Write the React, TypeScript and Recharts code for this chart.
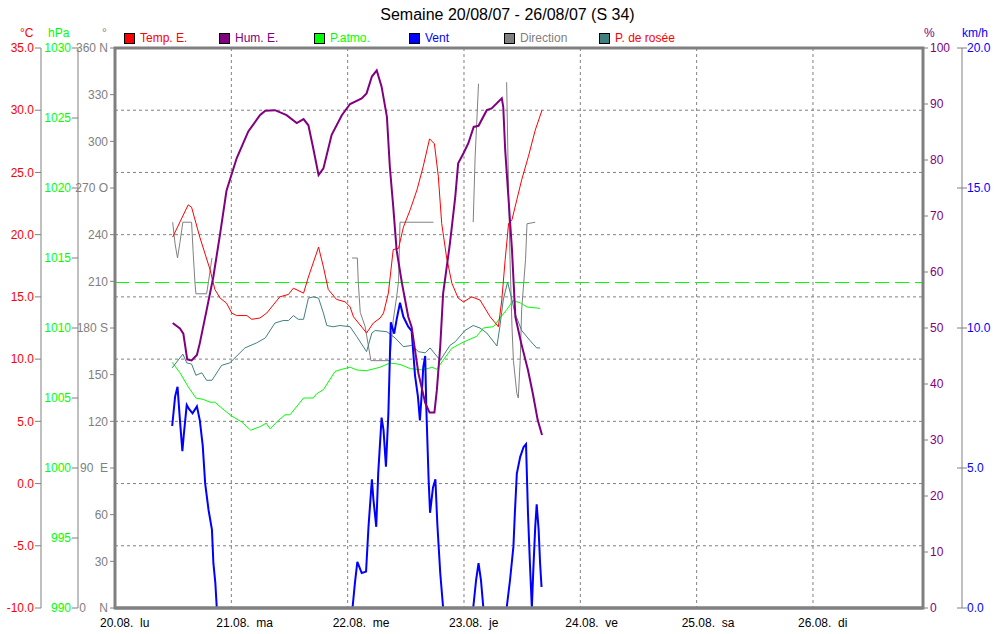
import React from 'react'
import { ComposedChart, Line, XAxis, YAxis, CartesianGrid, ReferenceLine, ReferenceArea } from 'recharts'

const FONT = '"Liberation Sans", Arial, sans-serif'
const T_END = 166.7 // hours shown (20.08 00:00 .. right frame)

const dayTicks = [0, 24, 48, 72, 96, 120, 144]
const dayLabels = ['20.08.  lu', '21.08.  ma', '22.08.  me', '23.08.  je', '24.08.  ve', '25.08.  sa', '26.08.  di']
const tempTicks = [-10, -5, 0, 5, 10, 15, 20, 25, 30, 35]
const pressTicks = [990, 995, 1000, 1005, 1010, 1015, 1020, 1025, 1030]
const dirTicks = [0, 30, 60, 90, 120, 150, 180, 210, 240, 270, 300, 330, 360]
const dirLabels: Record<number, string> = { 0: '0    N', 90: '90  E', 180: '180 S', 270: '270 O', 360: '360 N' }
const humTicks = [0, 10, 20, 30, 40, 50, 60, 70, 80, 90, 100]
const windTicks = [0, 5, 10, 15, 20]

// [hour since 20.08 00:00, value]
const tempPts: [number, number][] = [
  [11.9, 19.8], [15.1, 22.4], [15.8, 22.2], [17.5, 19.8], [19.6, 17.2], [20.6, 15.6], [21.7, 14.9], [23.0, 14.5],
  [24.1, 13.7], [25.1, 13.5], [27.2, 13.5], [28.2, 13.2], [29.9, 13.3], [31.3, 13.7], [34.0, 15.0], [35.8, 15.2],
  [36.8, 15.7], [38.9, 15.3], [39.9, 16.6], [42.0, 19.0], [43.0, 17.4], [44.0, 15.6], [45.7, 14.8], [47.5, 14.6],
  [48.5, 14.2], [49.2, 13.4], [51.9, 12.1], [53.3, 12.9], [54.7, 13.3], [55.4, 13.7], [56.4, 15.3], [57.4, 18.8],
  [58.5, 18.9], [59.5, 20.6], [60.9, 22.0], [62.3, 23.6], [63.6, 25.5], [64.9, 27.7], [65.9, 27.3], [66.7, 24.7],
  [67.4, 20.9], [68.4, 18.2], [69.5, 16.1], [70.8, 14.9], [71.9, 14.6], [73.6, 15.0], [75.3, 14.75], [77.4, 13.4],
  [79.1, 12.6], [79.8, 14.75], [80.5, 18.0], [81.2, 20.9], [81.9, 21.2], [82.9, 22.8], [83.9, 24.4], [85.3, 26.3],
  [86.7, 28.4], [88.1, 30.0],
]

const humPts: [number, number][] = [
  [11.9, 50.9], [13.4, 49.9], [14.1, 49.0], [14.9, 44.4], [15.8, 44.2], [16.9, 45.2], [17.5, 47.3], [18.9, 53.2],
  [20.3, 59.2], [21.7, 66.9], [23.0, 74.5], [25.1, 80.3], [27.5, 85.1], [29.9, 88.0], [31.0, 88.8], [33.0, 88.9],
  [35.4, 88.0], [37.5, 86.6], [38.9, 87.3], [39.9, 86.2], [40.9, 82.1], [42.0, 77.3], [43.0, 78.5], [44.7, 84.5],
  [46.8, 88.0], [48.5, 90.0], [50.9, 91.0], [51.9, 91.9], [53.0, 94.9], [54.0, 96.0], [55.0, 93.1], [56.1, 87.7],
  [56.7, 78.8], [57.4, 71.7], [58.1, 63.9], [59.2, 58.0], [60.5, 52.0], [61.2, 50.2], [62.6, 41.9], [64.0, 36.6],
  [64.9, 34.9], [65.9, 34.9], [66.4, 38.9], [67.1, 46.7], [67.7, 56.2], [69.1, 65.1], [70.2, 73.4], [70.8, 79.4],
  [71.9, 81.2], [72.9, 83.0], [74.0, 85.9], [75.0, 86.1], [76.7, 88.9], [77.7, 89.2], [79.8, 91.0], [80.1, 89.5],
  [80.5, 81.8], [81.2, 72.9], [81.9, 64.0], [82.6, 52.0], [83.8, 47.3], [85.2, 42.5], [86.2, 38.3], [87.2, 33.6],
  [88.1, 30.9],
]

const pressPts: [number, number][] = [
  [11.8, 1007.55], [13.4, 1006.8], [15.1, 1005.8], [16.7, 1005.0], [18.2, 1004.9], [19.6, 1004.7], [20.6, 1004.7],
  [22.3, 1004.2], [24.1, 1003.7], [26.1, 1003.3], [28.0, 1002.7], [29.9, 1002.95], [31.2, 1003.2], [32.0, 1002.8],
  [33.7, 1003.4], [35.1, 1003.8], [36.1, 1003.8], [38.9, 1005.0], [40.9, 1005.0], [41.6, 1005.3], [43.0, 1005.6],
  [45.4, 1006.9], [46.8, 1007.05], [48.5, 1007.2], [49.9, 1007.0], [51.9, 1006.95], [54.7, 1007.2], [56.7, 1007.5],
  [58.8, 1007.4], [60.9, 1007.1], [63.6, 1007.0], [65.4, 1007.2], [66.4, 1007.05], [67.7, 1007.7], [69.5, 1008.55],
  [71.9, 1009.0], [74.6, 1009.4], [76.0, 1010.0], [78.1, 1010.1], [79.4, 1010.7], [80.8, 1011.3], [82.1, 1011.95],
  [83.6, 1011.8], [85.0, 1011.5], [87.7, 1011.4],
]

const dewPts: [number, number][] = [
  [11.8, 9.3], [14.0, 10.4], [14.8, 9.7], [15.8, 9.6], [16.7, 8.7], [17.9, 8.9], [18.9, 8.3], [20.0, 8.3],
  [22.0, 9.5], [23.7, 9.7], [26.8, 10.9], [29.2, 11.3], [31.0, 11.7], [33.0, 12.9], [34.7, 13.1], [35.8, 13.1],
  [36.8, 13.5], [37.8, 13.2], [38.9, 13.2], [39.9, 14.9], [40.9, 15.0], [42.0, 14.9], [43.0, 13.7], [43.7, 12.7],
  [45.0, 12.6], [46.4, 12.7], [48.5, 12.6], [49.9, 11.8], [51.9, 10.6], [53.0, 12.1], [53.7, 12.3], [56.1, 12.2],
  [57.8, 11.7], [59.5, 11.0], [61.2, 11.1], [62.6, 10.6], [64.0, 10.5], [65.0, 10.9], [67.1, 9.9], [69.1, 11.1],
  [70.2, 11.4], [72.2, 12.3], [73.9, 12.7], [75.3, 12.5], [76.7, 12.1], [78.8, 11.05], [79.4, 12.6], [80.1, 14.75],
  [81.0, 16.2], [81.9, 14.75], [82.5, 13.7], [83.9, 12.3], [85.6, 11.5], [87.0, 10.9], [87.7, 10.9],
]

const windPts: [number, number][] = [
  [11.8, 6.5], [12.4, 7.55], [12.9, 7.9], [13.4, 6.7], [13.9, 5.6], [14.2, 6.2], [14.8, 7.25], [15.3, 7.1],
  [16.0, 6.95], [16.9, 7.2], [17.5, 6.7], [18.1, 5.8], [18.6, 4.45], [19.3, 3.5], [20.0, 2.8], [20.3, 1.6],
  [20.7, 0.9], [21.0, 0], [49.0, 0], [49.5, 0.9], [50.0, 1.65], [50.9, 1.25], [51.8, 1.3], [52.3, 2.9],
  [53.0, 4.6], [53.3, 3.9], [53.9, 2.9], [54.3, 4.8], [55.0, 6.8], [55.4, 6.35], [55.9, 5.05], [56.4, 6.95],
  [56.9, 10.2], [57.6, 9.8], [58.1, 10.3], [58.8, 10.9], [59.5, 10.4], [60.5, 10.05], [61.2, 9.9], [61.9, 8.3],
  [62.5, 7.55], [62.9, 6.7], [63.3, 7.7], [63.6, 8.6], [64.0, 9.0], [64.2, 7.3], [64.7, 4.6], [65.0, 3.4],
  [65.6, 4.3], [66.1, 4.6], [66.5, 3.0], [67.1, 1.25], [67.7, 0], [73.9, 0], [74.5, 1.0], [75.0, 1.6],
  [75.5, 1.0], [76.0, 0], [80.8, 0], [81.5, 1.0], [82.2, 2.2], [82.5, 3.4], [82.9, 4.8], [83.6, 5.4],
  [84.3, 5.75], [84.8, 5.85], [85.2, 3.4], [85.6, 1.6], [86.0, 0], [86.3, 1.35], [86.7, 2.9], [87.0, 3.7],
  [87.4, 2.8], [87.7, 1.6], [88.0, 0.75],
]

const dirPts: [number, number | null][] = [
  [11.9, 248], [12.4, 234], [12.9, 225], [13.4, 235], [14.0, 248], [15.8, 248], [16.1, 230], [16.5, 209],
  [16.7, 202], [18.9, 202], [19.3, 210], [20.0, 225], [30.0, null],
  [48.9, 225], [50.0, 225], [50.2, 209], [50.6, 190], [51.6, 181], [52.8, 159], [56.7, 159], [57.4, 185],
  [58.1, 200], [58.5, 210], [58.8, 248], [65.7, 248], [70.0, null],
  [73.9, 248], [74.3, 290], [74.6, 310], [75.0, 337], [78.0, null],
  [80.8, 338], [81.2, 267], [81.5, 224], [81.9, 181], [82.2, 159], [82.9, 138], [83.2, 135], [83.6, 159],
  [83.9, 192], [84.7, 224], [85.0, 247], [86.7, 248],
]

const legendItems = [
  { name: 'Temp. E.', box: '#ff0000', text: '#ff0000' },
  { name: 'Hum. E.', box: '#800080', text: '#800080' },
  { name: 'P.atmo.', box: '#00ff00', text: '#00ff00' },
  { name: 'Vent', box: '#0000ff', text: '#0000ff' },
  { name: 'Direction', box: '#808080', text: '#808080' },
  { name: 'P. de rosée', box: '#408080', text: '#ff0000' },
]

const units = [
  { text: '°C', left: 20, color: '#ff0000' },
  { text: 'hPa', left: 48, color: '#00ff00' },
  { text: '°', left: 102, color: '#808080' },
  { text: '%', left: 924, color: '#800080' },
  { text: 'km/h', left: 962, color: '#0000ff' },
]

const toData = (pts: [number, number | null][]) => pts.map(([t, v]) => ({ t, v }))

const DayTick = ({ x, payload }: any) => (
  <text x={x - 15} y={627} fontSize={12} fontFamily={FONT} fill="#000" xmlSpace="preserve" style={{ whiteSpace: 'pre' }}>
    {dayLabels[Math.round(payload.value / 24)]}
  </text>
)

const DirTick = ({ x, y, payload }: any) => (
  <text x={x} y={y} dy="0.355em" textAnchor="end" fontSize={12} fontFamily={FONT} fill="#808080" xmlSpace="preserve" style={{ whiteSpace: 'pre' }}>
    {dirLabels[payload.value] ?? String(payload.value)}
  </text>
)

const WindTick = ({ x, y, payload }: any) => (
  <g>
    <line x1={x - 10} x2={x - 5} y1={y} y2={y} stroke="#808080" />
    <text x={x} y={y} dy="0.355em" fontSize={12} fontFamily={FONT} fill="#0000ff">
      {payload.value.toFixed(1)}
    </text>
  </g>
)

const tickFont = { fontSize: 12, fontFamily: FONT }

export default function App() {
  return (
    <div style={{ position: 'absolute', left: 0, top: 0, width: 1007, height: 634, background: '#fff', fontFamily: FONT }}>
      <div style={{ position: 'absolute', left: 0, width: 1007, top: 6, textAlign: 'center', fontSize: 16, paddingLeft: 4 }}>
        Semaine 20/08/07 - 26/08/07 (S 34)
      </div>
      {legendItems.map((it, i) => (
        <div key={it.name} style={{ position: 'absolute', left: 124 + i * 95, top: 31, display: 'flex', alignItems: 'center', fontSize: 12, color: it.text }}>
          <span style={{ width: 9, height: 9, border: '1px solid #000', background: it.box, marginRight: 5 }} />
          {it.name}
        </div>
      ))}
      {units.map(u => (
        <div key={u.text} style={{ position: 'absolute', left: u.left, top: 26, fontSize: 12, color: u.color }}>
          {u.text}
        </div>
      ))}
      <ComposedChart width={1007} height={634} margin={{ top: 48, right: 0, bottom: 0, left: 0 }}>
        <CartesianGrid yAxisId="temp" stroke="#808080" strokeDasharray="3 3" />
        <ReferenceLine yAxisId="press" y={1013.25} stroke="#00ff00" strokeDasharray="14 6" />
        <Line yAxisId="dir" data={toData(dirPts)} dataKey="v" stroke="#808080" strokeWidth={1} dot={false} isAnimationActive={false} connectNulls={false} />
        <Line yAxisId="press" data={toData(pressPts)} dataKey="v" stroke="#00ff00" strokeWidth={1} dot={false} isAnimationActive={false} />
        <Line yAxisId="temp" data={toData(dewPts)} dataKey="v" stroke="#408080" strokeWidth={1} dot={false} isAnimationActive={false} />
        <Line yAxisId="temp" data={toData(tempPts)} dataKey="v" stroke="#ff0000" strokeWidth={1} dot={false} isAnimationActive={false} />
        <Line yAxisId="wind" data={toData(windPts)} dataKey="v" stroke="#0000ff" strokeWidth={2} dot={false} isAnimationActive={false} />
        <Line yAxisId="hum" data={toData(humPts)} dataKey="v" stroke="#800080" strokeWidth={2} dot={false} isAnimationActive={false} />
        <ReferenceArea yAxisId="temp" x1={0} x2={T_END} y1={-10} y2={35} fill="none" stroke="#808080" strokeWidth={3}
          ifOverflow="visible" {...({ zIndex: 1000 } as any)} />
        <XAxis dataKey="t" type="number" domain={[0, T_END]} ticks={dayTicks} height={26}
          axisLine={{ stroke: '#808080', strokeWidth: 3 }} tickLine={false} tick={<DayTick />} allowDataOverflow />
        <YAxis yAxisId="dir" orientation="left" width={37} domain={[0, 360]} ticks={dirTicks}
          axisLine={false} tickSize={5} tickLine={{ stroke: '#808080' }} tickMargin={2} tick={<DirTick />} />
        <YAxis yAxisId="press" orientation="left" width={37} domain={[990, 1030]} ticks={pressTicks}
          axisLine={{ stroke: '#808080' }} tickLine={{ stroke: '#808080' }} tickSize={6} tickMargin={1}
          tick={{ ...tickFont, fill: '#00ff00' }} />
        <YAxis yAxisId="temp" orientation="left" width={41} domain={[-10, 35]} ticks={tempTicks}
          axisLine={{ stroke: '#808080' }} tickLine={{ stroke: '#808080' }} tickSize={6} tickMargin={1}
          tick={{ ...tickFont, fill: '#ff0000' }} tickFormatter={(v: number) => v.toFixed(1)} />
        <YAxis yAxisId="hum" orientation="right" width={39} domain={[0, 100]} ticks={humTicks}
          axisLine={false} tickLine={{ stroke: '#808080' }} tickSize={5} tickMargin={2}
          tick={{ ...tickFont, fill: '#800080' }} />
        <YAxis yAxisId="wind" orientation="right" width={45} domain={[0, 20]} ticks={windTicks}
          axisLine={{ stroke: '#808080' }} tickLine={{ stroke: '#808080' }} tickSize={5} tickMargin={0}
          tick={<WindTick />} />
      </ComposedChart>
    </div>
  )
}
